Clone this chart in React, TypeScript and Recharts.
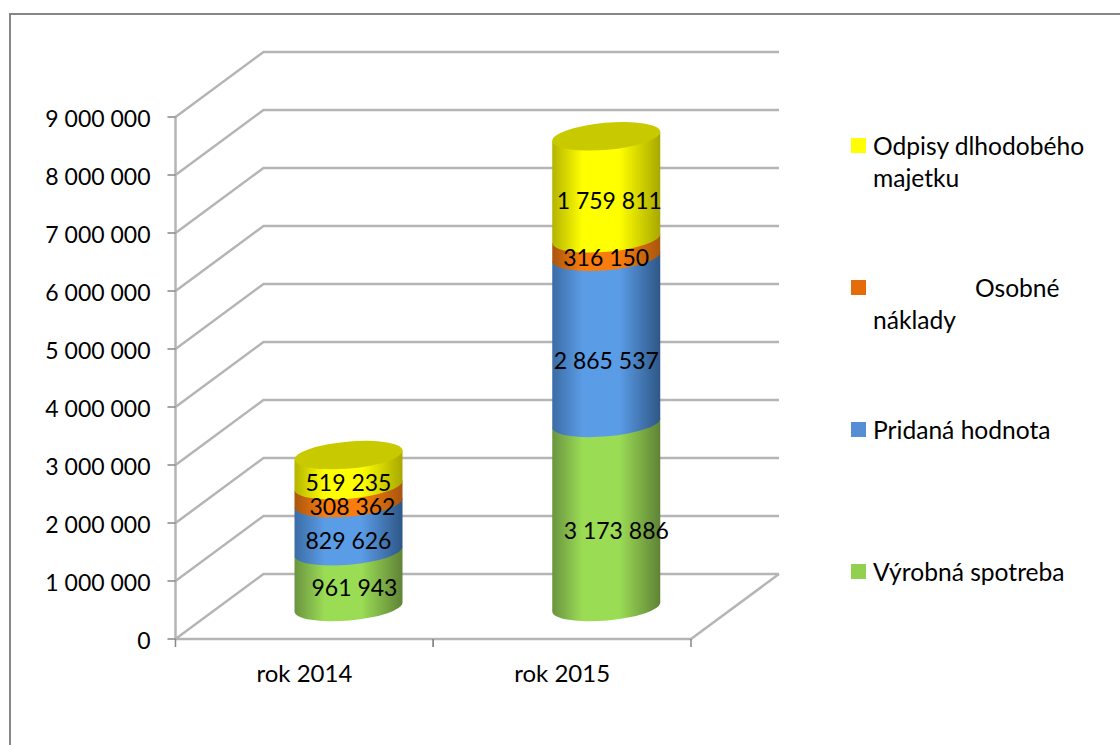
import { Bar, BarChart, CartesianGrid, LabelList, Legend, XAxis, YAxis } from 'recharts';

const years = ['rok 2014', 'rok 2015'];
const vyrobnaSpotreba = [961943, 3173886];
const pridanaHodnota = [829626, 2865537];
const osobneNaklady = [308362, 316150];
const odpisy = [519235, 1759811];
const yTicks = [0, 1000000, 2000000, 3000000, 4000000, 5000000, 6000000, 7000000, 8000000, 9000000];

const chartData = years.map((year, i) => ({
  year,
  'Výrobná spotreba': vyrobnaSpotreba[i],
  'Pridaná hodnota': pridanaHodnota[i],
  'Osobné náklady': osobneNaklady[i],
  'Odpisy dlhodobého majetku': odpisy[i],
}));

const FONT = 'Lato, "Open Sans", sans-serif';
const FONT_SIZE = 23;
const WALL = { x: 88, y: -65 };    // fake 3D depth of the back wall
const SHIFT = { x: 44, y: -32 };   // cylinders stand half way into the floor
const TILT = 5;                    // degrees
const RY = 13.5;

const seriesList = [
  { name: 'Výrobná spotreba', id: 'green', color: '#92d050', stops: ['#6a9440', '#9bdc55', '#9bdc55', '#5f8336'], nudge: [[6, 8], [10, 15]] },
  { name: 'Pridaná hodnota', id: 'blue', color: '#558ed5', stops: ['#3b6ca5', '#5b9ce6', '#5b9ce6', '#2e5787'], nudge: [[0, 13], [0, 20]] },
  { name: 'Osobné náklady', id: 'orange', color: '#e46c0a', stops: ['#a9560e', '#f97c0e', '#f97c0e', '#a9560e'], nudge: [[4, 12], [0, 9]] },
  { name: 'Odpisy dlhodobého majetku', id: 'yellow', color: '#ffff00', stops: ['#b4b400', '#ffff00', '#ffff00', '#a8a800'], nudge: [[0, 12], [3, 13]] },
];

const legendPlaces: Record<string, { top: number; lines: { text: string; left: number }[] }> = {
  'Odpisy dlhodobého majetku': { top: 138, lines: [{ text: 'Odpisy dlhodobého', left: 873 }, { text: 'majetku', left: 873 }] },
  'Osobné náklady': { top: 280, lines: [{ text: 'Osobné', left: 975 }, { text: 'náklady', left: 873 }] },
  'Pridaná hodnota': { top: 422, lines: [{ text: 'Pridaná hodnota', left: 873 }] },
  'Výrobná spotreba': { top: 564, lines: [{ text: 'Výrobná spotreba', left: 873 }] },
};

const formatNumber = (v: number) => String(v).replace(/\B(?=(\d{3})+$)/g, ' ');

function cylinder(id: string, isTop: boolean) {
  return (props: any) => {
    const { x, y, width, height } = props;
    const left = x + SHIFT.x;
    const right = left + width;
    const top = y + SHIFT.y;
    const bottom = top + height;
    const rad = (TILT * Math.PI) / 180;
    const rx = width / 2 / Math.cos(rad);
    const lift = (width / 2) * Math.tan(rad);
    const d = `M${left},${top + lift} L${right},${top - lift} L${right},${bottom - lift} A${rx},${RY} ${-TILT} 0 1 ${left},${bottom + lift} Z`;
    return (
      <g>
        <path d={d} fill={`url(#${id})`} />
        {isTop && (
          <ellipse
            cx={left + width / 2}
            cy={top}
            rx={rx}
            ry={RY}
            fill="#c9c900"
            transform={`rotate(${-TILT} ${left + width / 2} ${top})`}
          />
        )}
      </g>
    );
  };
}

function segmentLabel(nudge: number[][]) {
  return (props: any) => {
    const { x, y, width, height, value, index } = props;
    return (
      <text
        x={x + SHIFT.x + width / 2 + nudge[index][0]}
        y={y + SHIFT.y + height / 2 + nudge[index][1]}
        textAnchor="middle"
        dominantBaseline="central"
        fontFamily={FONT}
        fontSize={FONT_SIZE}
        fill="#000"
      >
        {formatNumber(value)}
      </text>
    );
  };
}

// back wall grid: front edge -> into the depth -> along the wall
const wallLine = (props: any) => {
  const { x1, x2, y1 } = props;
  return (
    <g key={`wall-${y1}`}>
      <polyline
        points={`${x1},${y1} ${x1 + WALL.x},${y1 + WALL.y} ${x2 + WALL.x},${y1 + WALL.y}`}
        fill="none"
        stroke="#b5b5b5"
        strokeWidth={2.5}
      />
      {y1 > 630 && (
        <line x1={x2} y1={y1} x2={x2 + WALL.x} y2={y1 + WALL.y} stroke="#b5b5b5" strokeWidth={2.5} />
      )}
    </g>
  );
};

const CategoryTick = (props: any) => {
  const { x, y, payload, width, visibleTicksCount } = props;
  const half = width / visibleTicksCount / 2;
  return (
    <g>
      <line x1={x - half} y1={y} x2={x - half} y2={y + 8} stroke="#868686" strokeWidth={1.5} />
      <line x1={x + half} y1={y} x2={x + half} y2={y + 8} stroke="#868686" strokeWidth={1.5} />
      <text x={x} y={y + 43} textAnchor="middle" fontFamily={FONT} fontSize={24} fill="#000">
        {payload.value}
      </text>
    </g>
  );
};

const LegendContent = (props: any) => {
  const items = [...(props.payload || [])].reverse();
  return (
    <div style={{ position: 'relative', width: 0, height: 0 }}>
      {items.map((item: any) => {
        const place = legendPlaces[item.value];
        return (
          <div key={item.value}>
            <div style={{ position: 'absolute', left: 851, top: place.top, width: 15, height: 15, background: item.color }} />
            {place.lines.map((line, i) => (
              <div
                key={line.text}
                style={{
                  position: 'absolute',
                  left: line.left,
                  top: place.top - 8 + i * 32,
                  fontFamily: FONT,
                  fontSize: 24.6,
                  lineHeight: '32px',
                  whiteSpace: 'nowrap',
                  color: '#000',
                }}
              >
                {line.text}
              </div>
            ))}
          </div>
        );
      })}
    </div>
  );
};

export default function App() {
  return (
    <div style={{ position: 'relative', width: 1120, height: 745, overflow: 'hidden', background: '#fff' }}>
      <style>{'body { margin: 0; }'}</style>
      <div
        style={{
          position: 'absolute',
          left: 9,
          top: 13,
          width: 1200,
          height: 800,
          borderLeft: '2px solid #868686',
          borderTop: '2px solid #868686',
        }}
      />
      <div style={{ position: 'absolute', left: 0, top: 0 }}>
        <BarChart
          width={1120}
          height={745}
          data={chartData}
          margin={{ top: 117, right: 429, bottom: 66, left: 0 }}
          barSize={108}
        >
          <defs>
            {seriesList.map((s) => (
              <linearGradient key={s.id} id={s.id} x1="0" y1="0" x2="1" y2="0">
                <stop offset="0%" stopColor={s.stops[0]} />
                <stop offset="28%" stopColor={s.stops[1]} />
                <stop offset="62%" stopColor={s.stops[2]} />
                <stop offset="100%" stopColor={s.stops[3]} />
              </linearGradient>
            ))}
          </defs>
          <CartesianGrid horizontal={wallLine} vertical={false} />
          <XAxis
            dataKey="year"
            height={40}
            tickLine={false}
            tickSize={0}
            tickMargin={0}
            interval={0}
            axisLine={{ stroke: '#b5b5b5', strokeWidth: 2.5 }}
            tick={CategoryTick}
          />
          <YAxis
            width={175.5}
            domain={[0, 9000000]}
            ticks={yTicks}
            interval={0}
            tickFormatter={formatNumber}
            tickSize={8}
            tickMargin={17}
            axisLine={{ stroke: '#b5b5b5', strokeWidth: 2.5 }}
            tickLine={{ stroke: '#868686', strokeWidth: 1.5 }}
            tick={{ fontFamily: FONT, fontSize: FONT_SIZE, fill: '#000', dy: 2 }}
          />
          <Legend
            layout="vertical"
            align="right"
            verticalAlign="top"
            content={LegendContent}
            wrapperStyle={{ left: 0, top: 0, width: 0, height: 0 }}
          />
          {seriesList.map((s, i) => (
            <Bar
              key={s.id}
              dataKey={s.name}
              stackId="a"
              fill={s.color}
              isAnimationActive={false}
              shape={cylinder(s.id, i === seriesList.length - 1)}
            >
              <LabelList dataKey={s.name} content={segmentLabel(s.nudge)} />
            </Bar>
          ))}
        </BarChart>
      </div>
    </div>
  );
}
